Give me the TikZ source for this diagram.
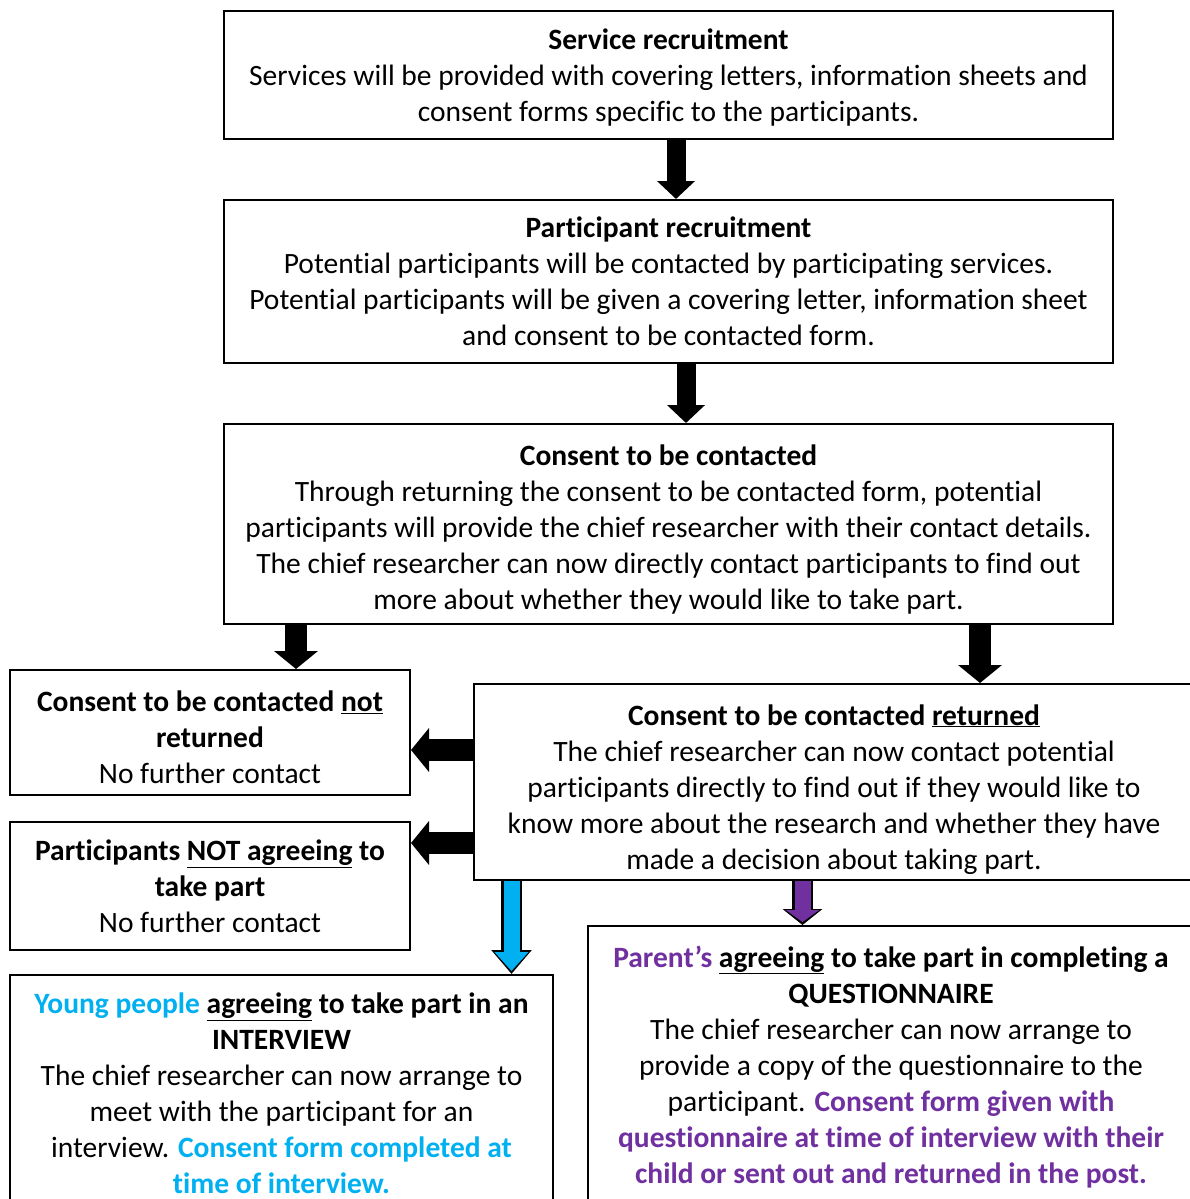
\documentclass[tikz,border=0pt]{standalone}
\usepackage{fontspec}
\setmainfont{Carlito}[Ligatures=NoCommon]
\usepackage{tikz}
\usetikzlibrary{arrows.meta}
\definecolor{youngblue}{HTML}{00B0F0}
\definecolor{parentpurple}{HTML}{7030A0}
\newcommand{\textlift}[1]{\rule{0pt}{#1}}

\begin{document}
\begin{tikzpicture}[x=1pt,y=-1pt]
  \tikzstyle{box}=[rectangle, draw, line width=2pt, fill=white, align=center, inner sep=0pt,
text depth=0pt, font=\fontsize{29.5}{36}\selectfont]
  \tikzstyle{block}=[line width=19pt, -{Triangle[width=37pt,length=18pt]}]
  \tikzstyle{wide block}=[line width=22pt, -{Triangle[width=43pt,length=18pt]}]
  \useasboundingbox (0,0) rectangle (1190,1199);
  \clip (0,0) rectangle (1190,1199);
  \fill[white] (0,0) rectangle (1190,1199);

  \node[box, minimum width=889pt, minimum height=128pt] (B_1) at (668.5,75) {\textbf{Service recruitment}\\
Services will be provided with covering letters, information sheets and\\
consent forms specific to the participants.};
  \node[box, minimum width=889pt, minimum height=163pt] (B_2) at (668.5,281.5) {\textbf{Participant recruitment}\\
Potential participants will be contacted by participating services.\\
Potential participants will be given a covering letter, information sheet\\
and consent to be contacted form.};
  \node[box, minimum width=889pt, minimum height=200pt] (B_3) at (668.5,524) {\textlift{26pt}\textbf{Consent to be contacted}\\
Through returning the consent to be contacted form, potential\\
participants will provide the chief researcher with their contact details.\\
The chief researcher can now directly contact participants to find out\\
more about whether they would like to take part.};
  \node[box, minimum width=400pt, minimum height=125pt] (B_4) at (210,732.5) {\textlift{30pt}\textbf{Consent to be contacted \underline{not}}\\
\textbf{returned}\\
No further contact};
  \node[box, minimum width=720pt, minimum height=196pt] (B_5) at (834,782) {\textlift{30pt}\textbf{Consent to be contacted \underline{returned}}\\
The chief researcher can now contact potential\\
participants directly to find out if they would like to\\
know more about the research and whether they have\\
made a decision about taking part.};
  \node[box, minimum width=400pt, minimum height=128pt] (B_6) at (210,886) {\textbf{Participants \underline{NOT agreeing} to}\\
\textbf{take part}\\
No further contact};
  \node[box, minimum width=543pt, minimum height=237pt] (B_7) at (281.5,1093.5) {\textbf{\textcolor{youngblue}{Young people} \underline{agreeing} to take part in an}\\
\textbf{INTERVIEW}\\
The chief researcher can now arrange to\\
meet with the participant for an\\
interview. \textbf{\textcolor{youngblue}{Consent form completed at}}\\
\textbf{\textcolor{youngblue}{time of interview.}}};
  \node[box, minimum width=606pt, minimum height=277pt] (B_8) at (891,1064.5) {\textbf{\textcolor{parentpurple}{Parent’s} \underline{agreeing} to take part in completing a}\\
\textbf{QUESTIONNAIRE}\\
The chief researcher can now arrange to\\
provide a copy of the questionnaire to the\\
participant. \textbf{\textcolor{parentpurple}{Consent form given with}}\\
\textbf{\textcolor{parentpurple}{questionnaire at time of interview with their}}\\
\textbf{\textcolor{parentpurple}{child or sent out and returned in the post.}}};

  \draw[block] ([xshift=7.5pt]B_1.south) -- ([xshift=7.5pt]B_2.north);
  \draw[block] ([xshift=17.5pt]B_2.south) -- ([xshift=17.5pt]B_3.north);
  \draw[wide block] (B_3.south -| 296,0) -- (B_4.north -| 296,0);
  \draw[wide block] (B_3.south -| 980,0) -- (B_5.north -| 980,0);
  \draw[wide block] (B_5.west |- 0,750) -- (B_4.east |- 0,750);
  \draw[wide block] (B_5.west |- 0,843) -- (B_6.east |- 0,843);

  \draw[line width=21pt, -{Triangle[width=39pt,length=24pt]}] (B_5.south -| 511.5,0) -- (B_7.north -| 511.5,0);
  \draw[youngblue, line width=16pt, shorten >=3pt, -{Triangle[width=33pt,length=19pt]}] (B_5.south -| 511.5,0) -- (B_7.north -| 511.5,0);
  \draw[line width=21pt, -{Triangle[width=39pt,length=16pt]}] (B_5.south -| 802.5,0) -- (B_8.north -| 802.5,0);
  \draw[parentpurple, line width=16pt, shorten >=3pt, -{Triangle[width=33pt,length=12pt]}] (B_5.south -| 802.5,0) -- (B_8.north -| 802.5,0);
\end{tikzpicture}
\end{document}
